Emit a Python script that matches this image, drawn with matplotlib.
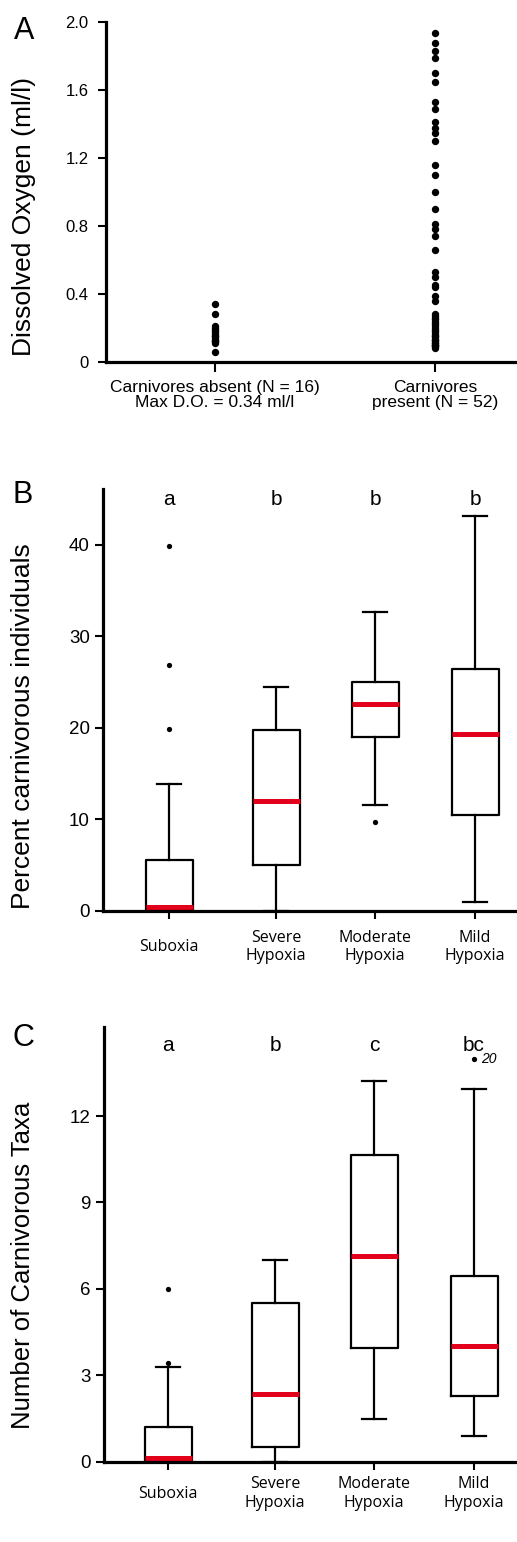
import matplotlib
matplotlib.use("Agg")
import matplotlib.pyplot as plt

# ---- panel A: dissolved oxygen (ml/l) at each station ----
do_absent = [0.34, 0.28, 0.21, 0.20, 0.19, 0.18, 0.17, 0.16, 0.15, 0.15,
             0.14, 0.13, 0.12, 0.12, 0.11, 0.06]
do_present = [1.94, 1.88, 1.83, 1.79, 1.70, 1.65, 1.53, 1.49, 1.41, 1.38,
              1.35, 1.30, 1.16, 1.10, 1.00, 0.90, 0.81, 0.78, 0.74, 0.66,
              0.53, 0.50, 0.45, 0.44, 0.39, 0.36, 0.28, 0.27, 0.26, 0.25,
              0.24, 0.23, 0.22, 0.21, 0.20, 0.19, 0.18, 0.17, 0.16, 0.15,
              0.15, 0.14, 0.13, 0.13, 0.12, 0.11, 0.11, 0.10, 0.10, 0.09,
              0.09, 0.08]
a_labels = ["Carnivores absent (N = 16)\nMax D.O. = 0.34 ml/l",
            "Carnivores\npresent (N = 52)"]

# ---- panels B and C: box plot summaries ----
groups = ["Suboxia", "Severe\nHypoxia", "Moderate\nHypoxia", "Mild\nHypoxia"]

pct_q1 = [0.0, 5.0, 19.0, 10.5]
pct_med = [0.45, 12.0, 22.6, 19.3]
pct_q3 = [5.5, 19.8, 25.0, 26.4]
pct_lo = [0.0, 0.0, 11.6, 1.0]
pct_hi = [13.8, 24.4, 32.6, 43.1]
pct_fliers = [[19.9, 26.9, 39.9], [], [9.7], []]
pct_letters = ["a", "b", "b", "b"]

taxa_q1 = [0.0, 0.5, 3.96, 2.29]
taxa_med = [0.12, 2.35, 7.15, 4.02]
taxa_q3 = [1.19, 5.5, 10.65, 6.45]
taxa_lo = [0.0, 0.0, 1.48, 0.9]
taxa_hi = [3.27, 7.0, 13.23, 12.93]
taxa_fliers = [[3.44, 5.98], [], [], [13.97]]
taxa_letters = ["a", "b", "c", "bc"]

RED = "#e2001a"
SANS = "Liberation Sans"

plt.rcParams["font.family"] = SANS

fig = plt.figure(figsize=(5.17, 15.42), dpi=100)

# ---------------- A ----------------
axA = fig.add_axes([106 / 517, 0.7654, 410 / 517, 0.2201])
axA.plot([1] * len(do_absent), do_absent, "o", color="black", ms=5.3, mec="none")
axA.plot([2] * len(do_present), do_present, "o", color="black", ms=5.3, mec="none")
axA.set_xlim(0.505, 2.368)
axA.set_ylim(0, 2.0)
axA.set_yticks([0, 0.4, 0.8, 1.2, 1.6, 2.0], ["0", "0.4", "0.8", "1.2", "1.6", "2.0"])
axA.set_xticks([1, 2], a_labels)
for lbl in axA.get_xticklabels():
    lbl.set_linespacing(1.05)
axA.tick_params(axis="y", labelsize=12, length=6, width=1.5, pad=6.5)
axA.tick_params(axis="x", labelsize=12.5, length=7, width=1.5, pad=6)
fig.text(24 / 517, 1 - 216 / 1542, "Dissolved Oxygen (ml/l)", rotation=90,
         ha="center", va="center", fontsize=19)
fig.text(24 / 517, 1 - 31 / 1542, "A", ha="center", va="center", fontsize=22)


def box_panel(ax, q1, med, q3, lo, hi, fliers, letters, letter_y, ylim, yticks, xlim, lab_pad):
    pos = [1.0, 2.07, 3.06, 4.06]
    stats = []
    for i in range(len(groups)):
        stats.append(dict(q1=q1[i], med=med[i], q3=q3[i], whislo=lo[i],
                          whishi=hi[i], fliers=fliers[i]))
    ax.bxp(stats, positions=pos, widths=0.47, showfliers=True,
           boxprops=dict(color="black", lw=1.6),
           whiskerprops=dict(color="black", lw=1.6),
           capprops=dict(color="black", lw=1.6),
           medianprops=dict(color=RED, lw=3.6, solid_capstyle="butt"),
           flierprops=dict(marker="o", markerfacecolor="black",
                           markeredgecolor="none", markersize=3.8))
    for p, t in zip(pos, letters):
        ax.text(p, letter_y, t, ha="center", va="baseline", fontsize=15)
    ax.set_xlim(*xlim)
    ax.set_ylim(*ylim)
    ax.set_yticks(yticks, [str(v) for v in yticks])
    ax.set_xticks(pos, groups)
    for lbl in ax.get_xticklabels():
        lbl.set_va("center")
        lbl.set_family("Open Sans")
    ax.tick_params(axis="y", labelsize=13.5, length=6, width=1.5, pad=3.5)
    ax.tick_params(axis="x", labelsize=11.5, length=6, width=1.5, pad=lab_pad)
    return pos


# ---------------- B ----------------
axB = fig.add_axes([103 / 517, 0.4094, 413 / 517, 0.2735])
box_panel(axB, pct_q1, pct_med, pct_q3, pct_lo, pct_hi, pct_fliers, pct_letters,
          44.3, (0, 46.1), [0, 10, 20, 30, 40], (0.34, 4.47), 20)
fig.text(23 / 517, 1 - 726 / 1542, "Percent carnivorous individuals", rotation=90,
         ha="center", va="center", fontsize=19)
fig.text(23 / 517, 1 - 495 / 1542, "B", ha="center", va="center", fontsize=22)

# ---------------- C ----------------
axC = fig.add_axes([104 / 517, 0.0521, 412 / 517, 0.2817])
posC = box_panel(axC, taxa_q1, taxa_med, taxa_q3, taxa_lo, taxa_hi, taxa_fliers,
                 taxa_letters, 14.24, (0, 15.08), [0, 3, 6, 9, 12], (0.36, 4.48), 17)
axC.annotate("20", (posC[3], taxa_fliers[3][0]), xytext=(5, 0),
             textcoords="offset points", ha="left", va="center",
             fontsize=10, style="italic")
fig.text(23 / 517, 1 - 1265 / 1542, "Number of Carnivorous Taxa", rotation=90,
         ha="center", va="center", fontsize=18.5)
fig.text(23 / 517, 1 - 1038 / 1542, "C", ha="center", va="center", fontsize=22)

for ax in (axA, axB, axC):
    ax.spines["top"].set_visible(False)
    ax.spines["right"].set_visible(False)
    ax.spines["left"].set_linewidth(2.3)
    ax.spines["bottom"].set_linewidth(2.3)
    for s in ax.spines.values():
        s.set_zorder(3)
    ax.set_facecolor("none")

fig.savefig("out.png", dpi=100)
